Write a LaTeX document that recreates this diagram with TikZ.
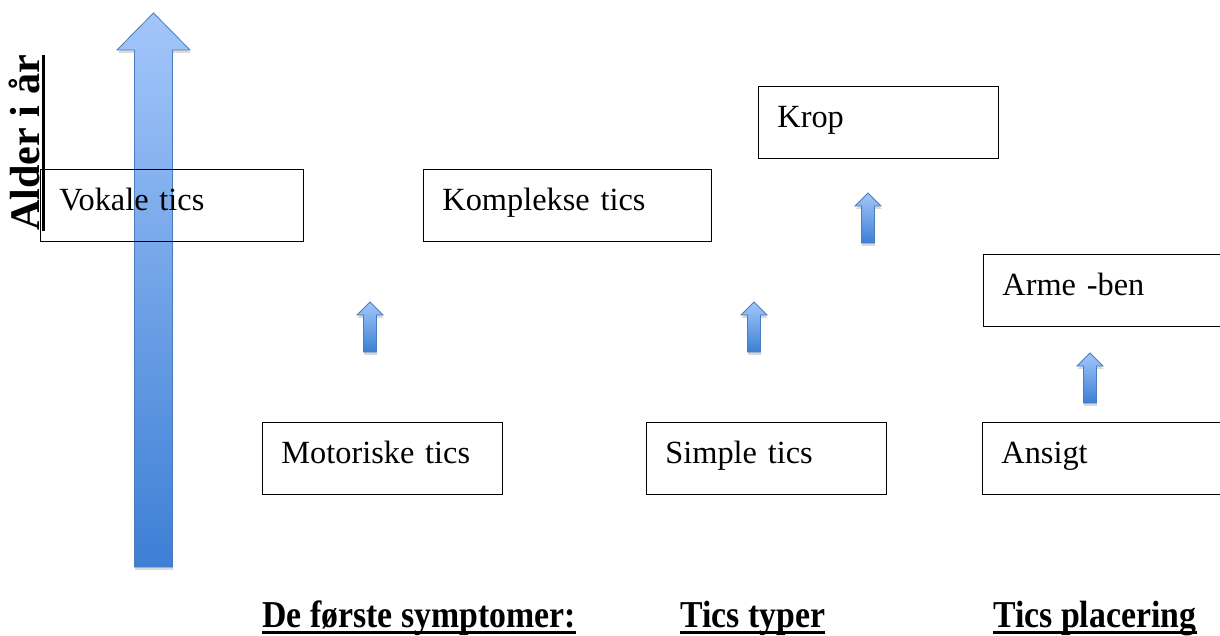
\documentclass[tikz,border=0pt]{standalone}
\usepackage{fontspec}
\setmainfont{Liberation Serif}
\newfontfamily\smalfont[FakeStretch=0.89]{Liberation Serif}
\usepackage{xcolor}
\usetikzlibrary{shadows}
\definecolor{piltop}{HTML}{A3C6FA}
\definecolor{pilbund}{HTML}{3D7FD5}
\definecolor{pilkant}{HTML}{4A7EBB}
\newcommand{\blokpil}[6]{%
\path[drop shadow={shadow xshift=0.5pt, shadow yshift=-2pt, opacity=0.3}, top color=piltop, bottom color=pilbund, draw=pilkant, line width=0.6pt]
(#1,#2) -- (#1+#5,#3) -- (#1+#4,#3) -- (#1+#4,#6) -- (#1-#4,#6) -- (#1-#4,#3) -- (#1-#5,#3) -- cycle;}

\begin{document}
\begin{tikzpicture}[x=0.025cm, y=-0.025cm,
boks/.style={draw, line width=0.6pt, anchor=north west, inner sep=0pt, inner xsep=0.475cm, text height=1.025cm, text depth=0.775cm, text width=#1, align=left, font=\fontsize{23}{28}\selectfont},
boks/.default=5.05cm,
overskrift/.style={anchor=base west, inner sep=0pt, font=\smalfont\bfseries\fontsize{27}{32}\selectfont}]
\clip (0,0) rectangle (1220,636);
\blokpil{153.5}{13}{50}{19}{36.5}{567}
\foreach \cx/\ty in {370/302, 754/302, 868/193, 1090/353}
  \blokpil{\cx}{\ty}{\ty+13}{6.5}{13}{\ty+50};
\node[boks=5.625cm] (vokale) at (40,169) {Vokale tics};
\node[boks=6.25cm] (komplekse) at (423,169) {Komplekse tics};
\node[boks] (krop) at (758,86) {Krop};
\node[boks] (arme) at (983,254) {Arme -ben};
\node[boks] (motoriske) at (262,422) {Motoriske tics};
\node[boks] (simple) at (646,422) {Simple tics};
\node[boks] (ansigt) at (982,422) {Ansigt};
\node[anchor=base west, inner sep=0pt, rotate=90, font=\bfseries\fontsize{30}{36}\selectfont] (alder) at (39,231) {Alder i år};
\draw[line width=2.2pt] ([xshift=0.12cm]alder.base west) -- ([xshift=0.12cm]alder.base east);
\node[overskrift] (forste) at (262,627) {De første symptomer:};
\node[overskrift] (typer) at (680,627) {Tics typer};
\node[overskrift] (placering) at (993,627) {Tics placering};
\foreach \n in {forste, typer, placering}
  \draw[line width=2.2pt] ([yshift=-0.14cm]\n.base west) -- ([yshift=-0.14cm]\n.base east);
\end{tikzpicture}
\end{document}
